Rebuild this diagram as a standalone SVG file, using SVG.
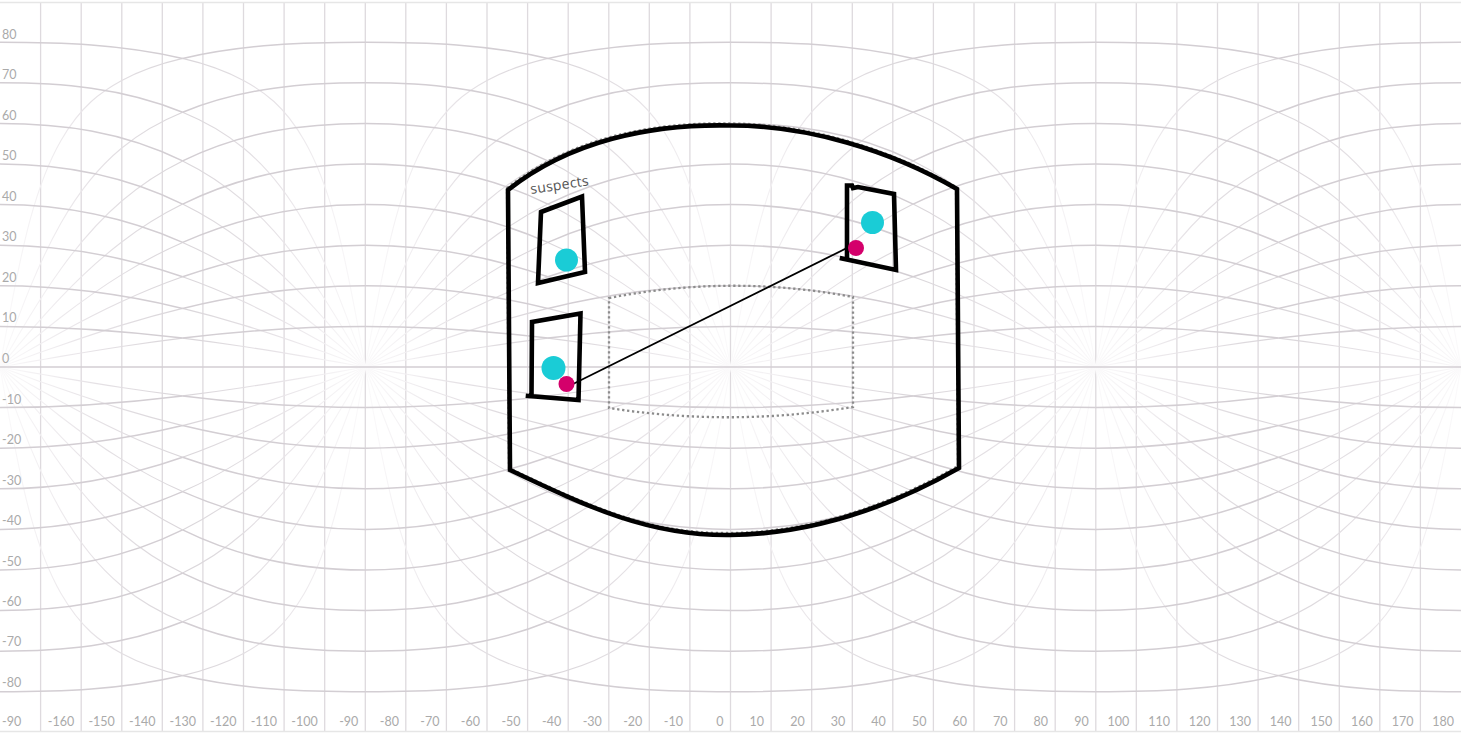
<svg xmlns="http://www.w3.org/2000/svg" width="1461" height="734" viewBox="0 0 1461 734">
<style>
.vl{fill:none;stroke:#dedade;stroke-width:1.3}
.gd{fill:none;stroke:#d3ced3;stroke-width:1.5}
.gl{fill:none;stroke:url(#fade);stroke-width:1.1}
.bd{fill:none;stroke:#e6e6e6;stroke-width:1.5}
.lab{font-family:Lato,"Open Sans",sans-serif;font-size:12.5px;fill:#aaa}
.lab-l{text-anchor:start}
.lab-b{text-anchor:end}
.thick{fill:none;stroke:#000;stroke-width:4.6;stroke-linejoin:miter;stroke-linecap:square}
.dot{fill:none;stroke:#8c8c8c;stroke-width:2.3;stroke-dasharray:2.3 2.7}
.cy{fill:#1accd6}
.mg{fill:#d4006b}
.conn{fill:none;stroke:#000;stroke-width:1.8}
.note{font-family:"Open Sans","Liberation Sans",sans-serif;font-size:14px;fill:#555;letter-spacing:0.3px}
</style>
<defs>
<linearGradient id="fade" gradientUnits="userSpaceOnUse" x1="182.6" y1="0" x2="365.3" y2="0">
<stop offset="0" stop-color="#d9d5d9"/>
<stop offset="0.5" stop-color="#e6e2e6"/>
<stop offset="1" stop-color="#fbfafb"/>
</linearGradient>
<g id="ql">
<path class="gl" d="M182.6,-28.9C202.9,-26.4 223.2,-23.6 243.5,-20.5C263.8,-17.4 284.1,-14.05 304.4,-10.6C314.55,-8.87 324.75,-7.12 334.9,-5.35C345.05,-3.58 355.15,-1.79 365.3,0"/>
<path class="gl" d="M182.6,-58.6C202.9,-53.7 223.2,-48.09 243.5,-41.9C263.8,-35.71 284.1,-28.87 304.4,-21.8C314.55,-18.26 324.75,-14.69 334.9,-11.04C345.05,-7.39 355.15,-3.69 365.3,0"/>
<path class="gl" d="M182.6,-90.2C202.9,-83.1 223.2,-74.77 243.5,-65.4C263.8,-56.03 284.1,-45.57 304.4,-34.5C314.55,-28.96 324.75,-23.28 334.9,-17.5C345.05,-11.72 355.15,-5.86 365.3,0"/>
<path class="gl" d="M182.6,-124.6C202.9,-115.7 223.2,-104.94 243.5,-92.4C263.8,-79.86 284.1,-65.41 304.4,-49.7C314.55,-41.84 324.75,-33.74 334.9,-25.4C345.05,-17.06 355.15,-8.52 365.3,0"/>
<path class="gl" d="M182.6,-162.9C202.9,-152.9 223.2,-140.46 243.5,-125C263.8,-109.54 284.1,-90.94 304.4,-69.6C314.55,-58.93 324.75,-47.61 334.9,-35.9C345.05,-24.19 355.15,-12.1 365.3,0"/>
<path class="gl" d="M182.6,-206.1C202.9,-196.2 223.2,-183.4 243.5,-166C263.8,-148.6 284.1,-126.28 304.4,-98C314.55,-83.86 324.75,-68.28 334.9,-51.7C345.05,-35.12 355.15,-17.58 365.3,0"/>
<path class="gl" d="M182.6,-254.8C202.9,-246.5 223.2,-235.73 243.5,-219C263.8,-202.27 284.1,-179.58 304.4,-143.8C314.55,-125.91 324.75,-104.6 334.9,-80.1C345.05,-55.6 355.15,-27.89 365.3,0"/>
<path class="gl" d="M182.6,-308.6C202.9,-303.83 223.2,-297.53 243.5,-286.5C263.8,-275.47 284.1,-261.55 304.4,-226.3C314.55,-208.67 324.75,-185.07 334.9,-148.2C345.05,-111.33 355.15,-57.57 365.3,0"/>
</g>
<g id="qd">
<path class="gd" d="M0,-40.6C60.9,-40.6 121.7,-36.38 182.6,-28.9"/>
<path class="gd" d="M0,-81.2C60.9,-81.2 121.7,-73.3 182.6,-58.6"/>
<path class="gd" d="M0,-121.8C60.9,-121.8 121.7,-111.5 182.6,-90.2"/>
<path class="gd" d="M0,-162.4C60.9,-162.4 121.7,-151.33 182.6,-124.6"/>
<path class="gd" d="M0,-203C60.9,-203 121.7,-192.9 182.6,-162.9"/>
<path class="gd" d="M0,-243.6C60.9,-243.6 121.7,-235.9 182.6,-206.1"/>
<path class="gd" d="M0,-284.2C60.9,-284.2 121.7,-279.6 182.6,-254.8"/>
<path class="gd" d="M0,-324.8C60.9,-324.8 121.7,-322.9 182.6,-308.6"/>
</g>
</defs>
<g id="background">
<rect x="0" y="0" width="1461" height="734" fill="#fff"/>
<path class="vl" d="M40.6,3V732M81.2,3V732M121.8,3V732M162.3,3V732M202.9,3V732M243.5,3V732M284.1,3V732M324.7,3V732M365.3,3V732M405.8,3V732M446.4,3V732M487,3V732M527.6,3V732M568.2,3V732M608.8,3V732M649.3,3V732M689.9,3V732M730.5,3V732M771.1,3V732M811.7,3V732M852.3,3V732M892.8,3V732M933.4,3V732M974,3V732M1014.6,3V732M1055.2,3V732M1095.8,3V732M1136.3,3V732M1176.9,3V732M1217.5,3V732M1258.1,3V732M1298.7,3V732M1339.3,3V732M1379.8,3V732M1420.4,3V732"/>
<g id="grid-ext">
<use href="#ql" transform="translate(0,367)"/>
<use href="#ql" transform="translate(0,367) scale(1,-1)"/>
<use href="#ql" transform="translate(365.25,367)"/>
<use href="#ql" transform="translate(365.25,367) scale(-1,1)"/>
<use href="#ql" transform="translate(365.25,367) scale(1,-1)"/>
<use href="#ql" transform="translate(365.25,367) scale(-1,-1)"/>
<use href="#ql" transform="translate(730.5,367)"/>
<use href="#ql" transform="translate(730.5,367) scale(-1,1)"/>
<use href="#ql" transform="translate(730.5,367) scale(1,-1)"/>
<use href="#ql" transform="translate(730.5,367) scale(-1,-1)"/>
<use href="#ql" transform="translate(1095.75,367)"/>
<use href="#ql" transform="translate(1095.75,367) scale(-1,1)"/>
<use href="#ql" transform="translate(1095.75,367) scale(1,-1)"/>
<use href="#ql" transform="translate(1095.75,367) scale(-1,-1)"/>
<use href="#ql" transform="translate(1461,367) scale(-1,1)"/>
<use href="#ql" transform="translate(1461,367) scale(-1,-1)"/>
</g>
<g id="grid-main">
<use href="#qd" transform="translate(0,367)"/>
<use href="#qd" transform="translate(0,367) scale(1,-1)"/>
<use href="#qd" transform="translate(365.25,367)"/>
<use href="#qd" transform="translate(365.25,367) scale(-1,1)"/>
<use href="#qd" transform="translate(365.25,367) scale(1,-1)"/>
<use href="#qd" transform="translate(365.25,367) scale(-1,-1)"/>
<use href="#qd" transform="translate(730.5,367)"/>
<use href="#qd" transform="translate(730.5,367) scale(-1,1)"/>
<use href="#qd" transform="translate(730.5,367) scale(1,-1)"/>
<use href="#qd" transform="translate(730.5,367) scale(-1,-1)"/>
<use href="#qd" transform="translate(1095.75,367)"/>
<use href="#qd" transform="translate(1095.75,367) scale(-1,1)"/>
<use href="#qd" transform="translate(1095.75,367) scale(1,-1)"/>
<use href="#qd" transform="translate(1095.75,367) scale(-1,-1)"/>
<use href="#qd" transform="translate(1461,367) scale(-1,1)"/>
<use href="#qd" transform="translate(1461,367) scale(-1,-1)"/>
<path class="gd" d="M0,367H1461"/>
</g>
<path class="bd" d="M0,2.5H1461M0,731.5H1461"/>
<g id="lat-labels" class="lab lab-l">
<text x="2" y="38.5">80</text>
<text x="2" y="79">70</text>
<text x="2" y="119.5">60</text>
<text x="2" y="160">50</text>
<text x="2" y="200.5">40</text>
<text x="2" y="241">30</text>
<text x="2" y="281.5">20</text>
<text x="2" y="322">10</text>
<text x="2" y="363">0</text>
<text x="2" y="403.5">-10</text>
<text x="2" y="444">-20</text>
<text x="2" y="484.5">-30</text>
<text x="2" y="525">-40</text>
<text x="2" y="565.5">-50</text>
<text x="2" y="606">-60</text>
<text x="2" y="646">-70</text>
<text x="2" y="687">-80</text>
<text x="2" y="726">-90</text>
</g>
<g id="lon-labels" class="lab lab-b">
<text x="74.2" y="726">-160</text>
<text x="114.8" y="726">-150</text>
<text x="155.4" y="726">-140</text>
<text x="196" y="726">-130</text>
<text x="236.5" y="726">-120</text>
<text x="277.1" y="726">-110</text>
<text x="317.7" y="726">-100</text>
<text x="358.3" y="726">-90</text>
<text x="398.9" y="726">-80</text>
<text x="439.4" y="726">-70</text>
<text x="480" y="726">-60</text>
<text x="520.6" y="726">-50</text>
<text x="561.2" y="726">-40</text>
<text x="601.8" y="726">-30</text>
<text x="642.3" y="726">-20</text>
<text x="682.9" y="726">-10</text>
<text x="723.5" y="726">0</text>
<text x="764.1" y="726">10</text>
<text x="804.7" y="726">20</text>
<text x="845.2" y="726">30</text>
<text x="885.8" y="726">40</text>
<text x="926.4" y="726">50</text>
<text x="967" y="726">60</text>
<text x="1007.6" y="726">70</text>
<text x="1048.1" y="726">80</text>
<text x="1088.7" y="726">90</text>
<text x="1129.3" y="726">100</text>
<text x="1169.9" y="726">110</text>
<text x="1210.5" y="726">120</text>
<text x="1251" y="726">130</text>
<text x="1291.6" y="726">140</text>
<text x="1332.2" y="726">150</text>
<text x="1372.8" y="726">160</text>
<text x="1413.4" y="726">170</text>
<text x="1454" y="726">180</text>
</g>
</g>
<g id="outer-view">
<path class="dot" transform="translate(-1,-2)" d="M508,190C570,141 650,124 729,125.5C806,125 890,150 957,189L959,468C885,510 810,534 730,535C650,536 590,508 510,470Z"/>
<path class="thick" d="M508,190C570,141 650,124 729,125.5C806,125 890,150 957,189L959,468C885,510 810,534 730,535C650,536 590,508 510,470Z"/>
</g>
<g id="inner-view">
<path class="dot" d="M609,298Q731,274 853,297L853,407Q731,427 609,408Z"/>
</g>
<g id="connectors">
<line class="conn" x1="570" y1="385.5" x2="851" y2="246"/>
</g>
<g id="suspect-top">
<path class="thick" d="M541,212L582,196.5L585,272L538,283Z"/>
<circle class="cy" cx="566.5" cy="260" r="11.5"/>
</g>
<g id="suspect-bottom">
<path class="thick" d="M531.5,396L532,322L580.5,313.5L578.5,400L528,396"/>
<circle class="cy" cx="553.5" cy="368" r="12"/>
<circle class="mg" cx="566.5" cy="384" r="8"/>
</g>
<g id="target">
<path class="thick" d="M847,258L847,185.5L852,185.5L853,188L858,187L894,194L896,270L842,258.5"/>
<circle class="cy" cx="872.5" cy="222.5" r="11.5"/>
<circle class="mg" cx="856" cy="248" r="8"/>
</g>
<g id="label-suspects">
<text class="note" x="531" y="194" transform="rotate(-8.5 531 194)">suspects</text>
</g>
</svg>
